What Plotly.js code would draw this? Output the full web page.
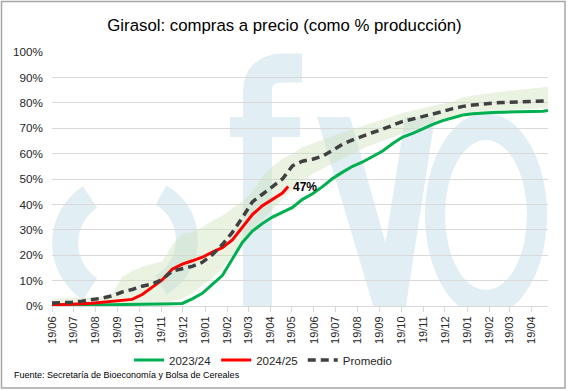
<!DOCTYPE html>
<html>
<head>
<meta charset="utf-8">
<script src="https://cdn.plot.ly/plotly-3.0.1.min.js"></script>
<style>html,body{margin:0;padding:0;background:#fff;}#chart{width:569px;height:391px;}</style>
</head>
<body>
<div id="chart"></div>
<script>
// ---- DATA ----
const fechas = [
  '2023-06-19','2023-07-03','2023-07-17','2023-07-31','2023-08-14','2023-08-28','2023-09-11','2023-09-25',
  '2023-10-09','2023-10-23','2023-11-06','2023-11-20','2023-12-04','2023-12-18','2024-01-01','2024-01-15',
  '2024-01-29','2024-02-12','2024-02-26','2024-03-11','2024-03-25','2024-04-08','2024-04-22','2024-05-06',
  '2024-05-20','2024-06-03','2024-06-17','2024-07-01','2024-07-15','2024-07-29','2024-08-12','2024-08-26',
  '2024-09-09','2024-09-23','2024-10-07','2024-10-21','2024-11-04','2024-11-18','2024-12-02','2024-12-16',
  '2024-12-30','2025-01-13','2025-01-27','2025-02-10','2025-02-24','2025-03-10','2025-03-24','2025-04-07',
  '2025-04-21','2025-05-05','2025-05-12'
];
const campania2324 = [
  0.3,0.3,0.4,0.4,0.5,0.5,0.5,0.6,0.6,0.7,0.7,0.8,0.9,1.0,2.8,5.0,
  8.5,12,18.5,25,29.5,32.5,35,37,38.8,42,44.2,47,50.2,52.7,55,56.7,
  58.7,61,64,66.5,68,69.8,71.5,73,74.2,75.2,75.7,76,76.2,76.3,76.4,76.4,
  76.5,76.7,77
];
const fechas2425 = [
  '2023-06-19','2023-07-03','2023-07-17','2023-07-31','2023-08-14','2023-08-28','2023-09-11','2023-09-25',
  '2023-10-09','2023-10-23','2023-11-06','2023-11-20','2023-12-04','2023-12-18','2024-01-01','2024-01-15',
  '2024-01-29','2024-02-12','2024-02-26','2024-03-11','2024-03-25','2024-04-08','2024-04-22','2024-05-06',
  '2024-05-14'
];
const campania2425 = [
  0.4,0.5,0.7,0.9,1.1,1.4,1.8,2.1,2.6,4.5,7.5,10.3,14.5,16.5,17.8,19.2,
  21.2,23,26,31,36,39.5,42,44.5,47
];
const promedio = [
  1.2,1.3,1.5,1.9,2.4,3.1,4.0,5.5,6.5,7.8,8.7,10.4,13.8,14.7,15.6,17.2,
  20.2,24.2,29,34.8,41,44,47,50,55.2,57,57.8,59,61.3,63.7,65.4,67,
  68.3,69.6,71.2,72.7,73.6,74.5,75.6,76.6,77.7,78.6,79.1,79.6,79.9,80.1,80.2,80.3,
  80.4,80.6,80.8
];
const rangoMax = [
  3,3,3,3.2,3.4,3.7,4.5,11.5,13.8,15.5,16.5,17.5,24,28.5,29,31,
  33.5,35.5,38.5,41,45,51,55,58,60,62.5,64,65.5,67,68.3,69.6,70.8,
  72,73.3,74.7,76,77,78,78.8,79.6,80.4,82.2,83,83.5,84,84.4,84.8,85.2,
  85.6,86,86.3
];
const rangoMin = [
  0,0,0,0,0,0,0,0,0,0,0.5,1,2,3,5,8,
  11,15,20,25,30,34,38,42,46,49,52,54,56,58,60,62,
  63.5,65,66.5,68,69.5,70.8,72,73,74,75,75.8,76.3,76.7,77,77.2,77.4,
  77.6,77.8,78
];
const tickFechas = [
  '2023-06-19','2023-07-19','2023-08-19','2023-09-19','2023-10-19','2023-11-19','2023-12-19',
  '2024-01-19','2024-02-19','2024-03-19','2024-04-19','2024-05-19','2024-06-19','2024-07-19',
  '2024-08-19','2024-09-19','2024-10-19','2024-11-19','2024-12-19','2025-01-19','2025-02-19',
  '2025-03-19','2025-04-19'
];
const tickEtiquetas = [
  '19/06','19/07','19/08','19/09','19/10','19/11','19/12','19/01','19/02','19/03','19/04','19/05',
  '19/06','19/07','19/08','19/09','19/10','19/11','19/12','19/01','19/02','19/03','19/04'
];
const nombres = ['2023/24','2024/25','Promedio'];
const etiquetaFinal = '47%';

// ---- WATERMARK (decorative logo) ----
const wmColor = '#e1eef4';
const wmSvg = '<svg xmlns="http://www.w3.org/2000/svg" width="496" height="254" viewBox="0 0 496 254">' +
  '<g fill="none" stroke="' + wmColor + '">' +
  '<path d="M 38 145 A 55 55 0 0 0 38 237" stroke-width="26"/>' +
  '<path d="M 109 143 A 52 52 0 0 1 109 233" stroke-width="22"/>' +
  '<path d="M 205.5 260 L 205.5 40 Q 205.5 16 232 16 L 250 16" stroke-width="29"/>' +
  '</g>' +
  '<g fill="' + wmColor + '">' +
  '<rect x="178" y="65" width="70" height="20"/>' +
  '<polygon points="265,65 298,65 353,260 323,260"/>' +
  '<polygon points="353,65 383,65 353,260 323,260"/>' +
  '<path fill-rule="evenodd" d="M 373 163 A 61 102 0 1 0 495 163 A 61 102 0 1 0 373 163 Z M 393 163 A 41 75 0 1 0 475 163 A 41 75 0 1 0 393 163 Z"/>' +
  '</g></svg>';
const wmSrc = 'data:image/svg+xml;charset=utf-8,' + encodeURIComponent(wmSvg);

const lineFont = 'Liberation Sans, Arial, sans-serif';

const traces = [
  {x: fechas, y: rangoMin, type: 'scatter', mode: 'lines', line: {width: 0, color: 'rgba(0,0,0,0)'},
   showlegend: false, hoverinfo: 'skip'},
  {x: fechas, y: rangoMax, type: 'scatter', mode: 'lines', line: {width: 0, color: 'rgba(0,0,0,0)'},
   fill: 'tonexty', fillcolor: 'rgba(204,226,186,0.42)', showlegend: false, hoverinfo: 'skip'},
  {x: fechas, y: campania2324, name: nombres[0], type: 'scatter', mode: 'lines',
   line: {color: '#00b050', width: 3}},
  {x: fechas2425, y: campania2425, name: nombres[1], type: 'scatter', mode: 'lines',
   line: {color: '#ff0000', width: 3}},
  {x: fechas, y: promedio, name: nombres[2], type: 'scatter', mode: 'lines',
   line: {color: '#404040', width: 3.5, dash: '8px,5px'}}
];

const layout = {
  width: 569, height: 391,
  margin: {l: 52, r: 21, t: 52, b: 85},
  paper_bgcolor: '#ffffff', plot_bgcolor: 'rgba(0,0,0,0)',
  font: {family: lineFont, size: 11, color: '#262626'},
  title: {text: 'Girasol: compras a precio (como % producción)', x: 0.5, xref: 'container',
          y: 1 - 25/391, yref: 'container', yanchor: 'middle', xanchor: 'center',
          font: {family: lineFont, size: 16.8, color: '#000000'}},
  xaxis: {type: 'date', range: [fechas[0], fechas[fechas.length - 1]],
          tickvals: tickFechas, ticktext: tickEtiquetas, tickangle: -90,
          showgrid: false, zeroline: false, showline: true, linecolor: '#d9d9d9', linewidth: 1,
          ticks: 'outside', ticklen: 5, tickcolor: '#d9d9d9', tickwidth: 1,
          tickfont: {family: lineFont, size: 11, color: '#262626'}, fixedrange: true},
  yaxis: {range: [0, 100], dtick: 10, ticksuffix: '%', showgrid: true, gridcolor: '#d9d9d9', gridwidth: 1,
          zeroline: false, showline: false, ticks: '', ticklabelstandoff: 8,
          tickfont: {family: lineFont, size: 11.7, color: '#262626'}, fixedrange: true},
  showlegend: true,
  legend: {orientation: 'h', x: (263 - 52) / 496, xanchor: 'center', y: (306 - 360) / 254, yanchor: 'middle',
           font: {family: lineFont, size: 11.5, color: '#262626'}, bgcolor: 'rgba(0,0,0,0)', traceorder: 'normal'},
  images: [{source: wmSrc, xref: 'paper', yref: 'paper', x: 0, y: 1, sizex: 1, sizey: 1,
            xanchor: 'left', yanchor: 'top', sizing: 'stretch', layer: 'below', opacity: 1}],
  annotations: [
    {x: fechas2425[fechas2425.length - 1], y: campania2425[campania2425.length - 1], xref: 'x', yref: 'y',
     text: '<b>' + etiquetaFinal + '</b>', showarrow: false, xanchor: 'left', yanchor: 'middle', xshift: 3,
     font: {family: lineFont, size: 12, color: '#000000'}},
    {x: (12 - 52) / 496, y: (306 - 375) / 254, xref: 'paper', yref: 'paper',
     text: 'Fuente: Secretaría de Bioeconomía y Bolsa de Cereales', showarrow: false,
     xanchor: 'left', yanchor: 'middle', font: {family: lineFont, size: 9, color: '#000000'}}
  ],
  shapes: [
    {type: 'rect', xref: 'paper', yref: 'paper', x0: (1.5 - 52) / 496, x1: (565 - 52) / 496,
     y0: (306 - 388) / 254, y1: (306 - 1.5) / 254, line: {color: '#a6a6a6', width: 1.5}, fillcolor: 'rgba(0,0,0,0)'}
  ]
};

Plotly.newPlot('chart', traces, layout, {displayModeBar: false, staticPlot: true});
</script>
</body>
</html>
